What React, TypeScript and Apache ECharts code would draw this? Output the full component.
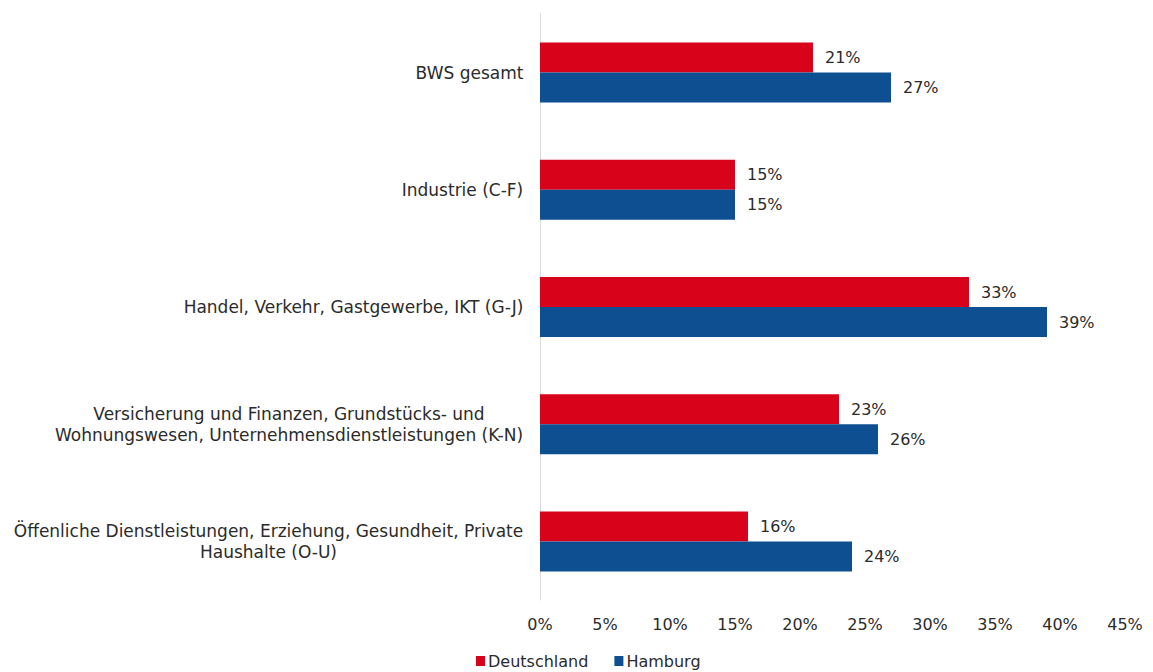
import React, { useEffect, useRef } from "react";
import * as echarts from "echarts";

const categories = [
  "BWS gesamt",
  "Industrie (C-F)",
  "Handel, Verkehr, Gastgewerbe, IKT (G-J)",
  "Versicherung und Finanzen, Grundstücks- und\nWohnungswesen, Unternehmensdienstleistungen (K-N)",
  "Öffenliche Dienstleistungen, Erziehung, Gesundheit, Private\nHaushalte (O-U)",
];
const deutschland = [21, 15, 33, 23, 16];
const hamburg = [27, 15, 39, 26, 24];
const seriesNames = ["Deutschland", "Hamburg"];

export default function App() {
  const ref = useRef<HTMLDivElement>(null);
  useEffect(() => {
    const chart = echarts.init(ref.current!, null, { renderer: "svg" });
    const font = "'DejaVu Sans', Verdana, sans-serif";
    const catFontSize = 17;
    const ctx = document.createElement("canvas").getContext("2d")!;
    ctx.font = `${catFontSize}px 'DejaVu Sans'`;
    const rich: Record<string, any> = {};
    categories.forEach((c, i) => {
      const w = Math.max(...c.split("\n").map((l) => ctx.measureText(l).width));
      rich["c" + i] = {
        width: Math.ceil(w) + 1,
        align: "center",
        fontSize: catFontSize,
        lineHeight: 21,
        color: "#2b2b2b",
        fontFamily: font,
      };
    });
    const labelCfg = {
      show: true,
      position: "right",
      distance: 12,
      color: "#2b2b2b",
      fontSize: 16,
      fontFamily: font,
      formatter: (p: any) => p.value + "%",
    };
    chart.setOption({
      animation: false,
      textStyle: { fontFamily: font },
      grid: { left: 540, right: 28, top: 14, bottom: 72, containLabel: false },
      legend: {
        top: 648,
        left: 471,
        itemWidth: 9,
        itemHeight: 10,
        itemGap: 26,
        icon: "rect",
        textStyle: { fontSize: 16, color: "#2b2b2b", fontFamily: font, padding: [0, 0, 0, -2] },
        data: seriesNames,
      },
      xAxis: {
        type: "value",
        min: 0,
        max: 45,
        interval: 5,
        axisLine: { show: false },
        axisTick: { show: false },
        splitLine: { show: false },
        axisLabel: {
          formatter: "{value}%",
          fontSize: 16,
          color: "#2b2b2b",
          margin: 16,
          fontFamily: font,
        },
      },
      yAxis: {
        type: "category",
        inverse: true,
        data: categories,
        axisLine: { show: true, lineStyle: { color: "#d9d9d9", width: 1 } },
        axisTick: { show: false },
        axisLabel: {
          fontSize: catFontSize,
          color: "#2b2b2b",
          margin: 16,
          lineHeight: 21,
          align: "right",
          fontFamily: font,
          formatter: (value: string, idx: number) =>
            value
              .split("\n")
              .map((l) => `{c${idx}|${l}}`)
              .join("\n"),
          rich,
        },
      },
      series: [
        {
          name: seriesNames[0],
          type: "bar",
          data: deutschland,
          barWidth: 30,
          barGap: "0%",
          itemStyle: { color: "#d9021b" },
          label: labelCfg,
        },
        {
          name: seriesNames[1],
          type: "bar",
          data: hamburg,
          barWidth: 30,
          itemStyle: { color: "#0d4f91" },
          label: labelCfg,
        },
      ],
    });
    return () => chart.dispose();
  }, []);
  return <div ref={ref} style={{ width: 1153, height: 672, position: "absolute", left: 0, top: 0, background: "#fff" }} />;
}
